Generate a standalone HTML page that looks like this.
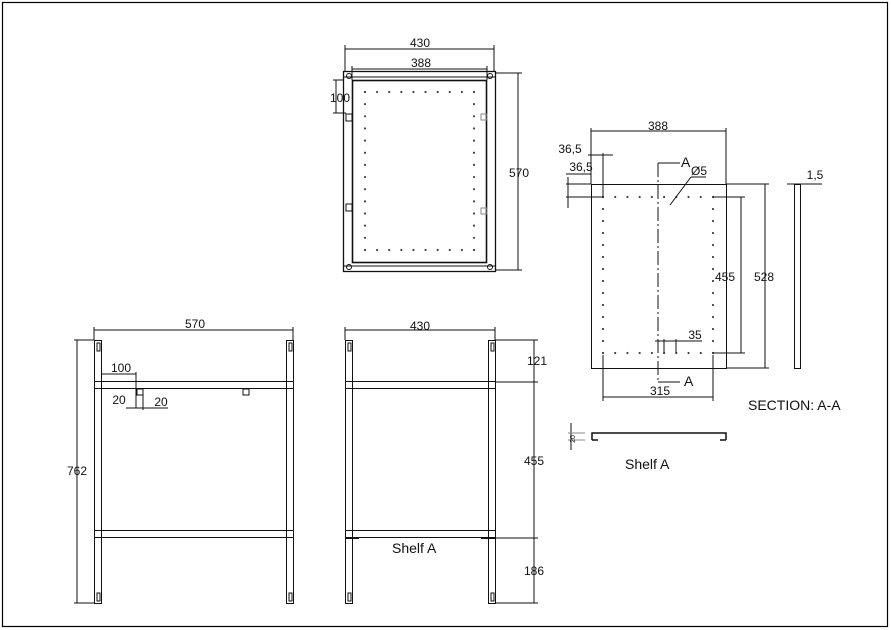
<!DOCTYPE html>
<html><head><meta charset="utf-8"><style>
html,body{margin:0;padding:0;background:#fff}
svg{display:block}
text{font-family:"Liberation Sans",sans-serif;fill:#111}
</style></head><body>
<svg width="891" height="630" viewBox="0 0 891 630" xmlns="http://www.w3.org/2000/svg">
<rect x="2.5" y="2.5" width="885" height="624" fill="none" stroke="#000" stroke-width="1.2"/>
<g fill="none" stroke="#111" stroke-width="1">
<rect x="343.5" y="71.5" width="152" height="200" stroke-width="1.3"/>
<rect x="352.5" y="80.5" width="134" height="182" stroke-width="1.6"/>
<line x1="343" y1="77" x2="495" y2="77"/>
<line x1="343" y1="266" x2="495" y2="266"/>
<circle cx="349" cy="76" r="2.5"/><circle cx="490" cy="76" r="2.5"/>
<circle cx="349" cy="267" r="2.5"/><circle cx="490" cy="267" r="2.5"/>
<rect x="346" y="114" width="6" height="7"/><rect x="346" y="204" width="6" height="7"/>
<rect x="481" y="114" width="6" height="6" stroke="#888"/><rect x="481" y="208" width="6" height="6" stroke="#888"/>
<g stroke="#444" stroke-width="2.2" stroke-linecap="round">
<line x1="365" y1="92" x2="474.1" y2="92" stroke-dasharray="0 12.11"/>
<line x1="365" y1="250" x2="474.1" y2="250" stroke-dasharray="0 12.11"/>
<line x1="365" y1="92" x2="365" y2="250.2" stroke-dasharray="0 12.15"/>
<line x1="474" y1="92" x2="474" y2="250.2" stroke-dasharray="0 12.15"/>
</g>
<line x1="345" y1="49" x2="494" y2="49"/><line x1="345" y1="45" x2="345" y2="71"/><line x1="494" y1="45" x2="494" y2="71"/>
<line x1="352" y1="69" x2="487" y2="69"/><line x1="352" y1="66" x2="352" y2="80"/><line x1="487" y1="66" x2="487" y2="80"/>
<line x1="518" y1="73" x2="518" y2="270"/><line x1="495" y1="73" x2="522" y2="73"/><line x1="495" y1="270" x2="522" y2="270"/>
<line x1="336" y1="80" x2="336" y2="113"/><line x1="333" y1="80" x2="343" y2="80"/><line x1="333" y1="113" x2="346" y2="113"/>
<rect x="94.5" y="340.5" width="7" height="263"/>
<rect x="286.5" y="340.5" width="7" height="263"/>
<rect x="94.5" y="381.5" width="199" height="7"/>
<rect x="94.5" y="530.5" width="199" height="7"/>
<rect x="97" y="343" width="3" height="8"/><rect x="289" y="343" width="3" height="8"/>
<rect x="97" y="593" width="3" height="8"/><rect x="289" y="593" width="3" height="8"/>
<rect x="137" y="389" width="6" height="6"/><rect x="243" y="389" width="6" height="6"/>
<line x1="94" y1="330" x2="293" y2="330"/><line x1="94" y1="327" x2="94" y2="340"/><line x1="293" y1="327" x2="293" y2="340"/>
<line x1="77" y1="340" x2="77" y2="603"/><line x1="74" y1="340" x2="94" y2="340"/><line x1="74" y1="603" x2="94" y2="603"/>
<line x1="102" y1="374" x2="136" y2="374"/><line x1="136" y1="372" x2="136" y2="389"/>
<line x1="126" y1="408" x2="168" y2="408"/>
<line x1="143" y1="395" x2="143" y2="410"/><line x1="136" y1="379" x2="136" y2="408"/>
<rect x="345.5" y="340.5" width="7" height="263"/>
<rect x="488.5" y="340.5" width="7" height="263"/>
<rect x="345.5" y="381.5" width="150" height="7"/>
<rect x="345.5" y="530.5" width="150" height="7"/>
<rect x="348" y="343" width="3" height="8"/><rect x="491" y="343" width="3" height="8"/>
<rect x="348" y="593" width="3" height="8"/><rect x="491" y="593" width="3" height="8"/>
<line x1="345" y1="538" x2="359" y2="538" stroke-width="2"/><line x1="481" y1="538" x2="495" y2="538" stroke-width="2"/>
<line x1="345" y1="330" x2="495" y2="330"/><line x1="345" y1="327" x2="345" y2="340"/><line x1="495" y1="327" x2="495" y2="340"/>
<line x1="534" y1="340" x2="534" y2="603"/>
<line x1="495" y1="340" x2="538" y2="340"/><line x1="495" y1="382" x2="538" y2="382"/>
<line x1="495" y1="538" x2="538" y2="538"/><line x1="495" y1="603" x2="538" y2="603"/>
<rect x="591.5" y="184.5" width="135" height="184"/>
<g stroke="#444" stroke-width="2.2" stroke-linecap="round">
<line x1="603" y1="197" x2="713.1" y2="197" stroke-dasharray="0 12.22"/>
<line x1="603" y1="353" x2="713.1" y2="353" stroke-dasharray="0 12.22"/>
<line x1="603" y1="197" x2="603" y2="353.1" stroke-dasharray="0 12"/>
<line x1="713" y1="197" x2="713" y2="353.1" stroke-dasharray="0 12"/>
</g>
<line x1="658" y1="163" x2="658" y2="382" stroke-dasharray="14 3 2 3"/>
<line x1="658" y1="163" x2="680" y2="163"/><line x1="658" y1="382" x2="680" y2="382"/>
<line x1="591" y1="131" x2="726" y2="131"/><line x1="591" y1="128" x2="591" y2="184"/><line x1="726" y1="128" x2="726" y2="184"/>
<line x1="588" y1="155" x2="613" y2="155"/><line x1="603" y1="153" x2="603" y2="197"/>
<line x1="566" y1="184" x2="591" y2="184"/><line x1="566" y1="197" x2="603" y2="197"/><line x1="568" y1="177" x2="568" y2="208"/>
<line x1="566" y1="174" x2="591" y2="174"/>
<line x1="726" y1="184" x2="769" y2="184"/><line x1="726" y1="368" x2="769" y2="368"/><line x1="765" y1="184" x2="765" y2="368"/>
<line x1="713" y1="197" x2="745" y2="197"/><line x1="713" y1="353" x2="745" y2="353"/><line x1="741" y1="197" x2="741" y2="353"/>
<line x1="603" y1="355" x2="603" y2="401"/><line x1="713" y1="355" x2="713" y2="401"/><line x1="603" y1="397" x2="713" y2="397"/>
<line x1="655" y1="341" x2="702" y2="341"/><line x1="664" y1="339" x2="664" y2="353"/><line x1="676" y1="339" x2="676" y2="353"/>
<line x1="670" y1="205" x2="691" y2="177"/><line x1="691" y1="177" x2="706" y2="177"/>
<rect x="794.5" y="184.5" width="6" height="184"/>
<line x1="787" y1="184" x2="822" y2="184"/>
<path d="M592 440 V433 H726 V440 M592 440 H598 M726 440 H720" stroke-width="1.5"/>
<line x1="571" y1="423" x2="571" y2="450"/><line x1="568" y1="433" x2="585" y2="433" stroke="#888"/><line x1="568" y1="440" x2="585" y2="440" stroke="#888"/>
</g>
<g font-size="12" text-anchor="middle">
<text x="420" y="47">430</text>
<text x="421" y="67">388</text>
<text x="519" y="177">570</text>
<text x="340" y="102">100</text>
<text x="195" y="328">570</text>
<text x="77" y="475">762</text>
<text x="121" y="372">100</text>
<text x="119" y="404">20</text>
<text x="161" y="406">20</text>
<text x="420" y="330">430</text>
<text x="537" y="365">121</text>
<text x="534" y="465">455</text>
<text x="534" y="575">186</text>
<text x="658" y="130">388</text>
<text x="570" y="153">36,5</text>
<text x="581" y="171">36,5</text>
<text x="725" y="281">455</text>
<text x="764" y="281">528</text>
<text x="660" y="395">315</text>
<text x="695" y="339">35</text>
<text x="699" y="175">Ø5</text>
<text x="815" y="179">1,5</text>
</g>
<g font-size="14">
<text x="681" y="167">A</text>
<text x="684" y="386">A</text>
<text x="748" y="410">SECTION: A-A</text>
<text x="392" y="553">Shelf A</text>
<text x="625" y="469">Shelf A</text>
</g>
<text x="571" y="439" font-size="7" text-anchor="middle" transform="rotate(-90 573 437)">20</text>
</svg>
</body></html>
